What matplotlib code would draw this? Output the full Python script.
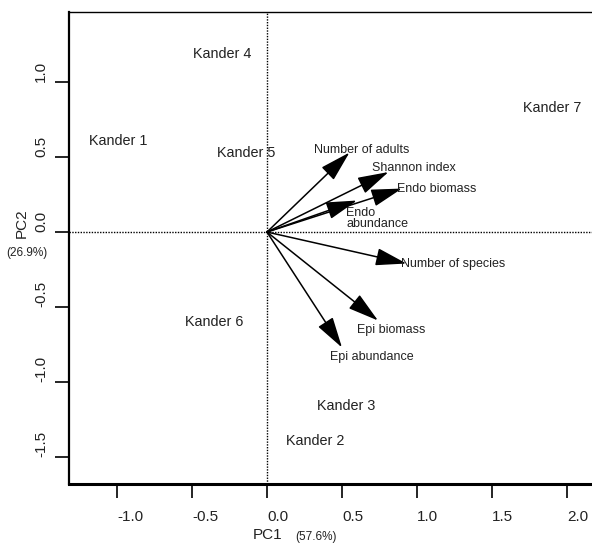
import matplotlib
matplotlib.use("Agg")
from matplotlib import pyplot as plt

plt.rcParams['font.family'] = ['Liberation Sans', 'DejaVu Sans']

# site scores
sites = ["Kander 1", "Kander 2", "Kander 3", "Kander 4", "Kander 5", "Kander 6", "Kander 7"]
site_x = [-0.99, 0.32, 0.53, -0.30, -0.14, -0.35, 1.90]
site_y = [0.61, -1.39, -1.16, 1.19, 0.53, -0.60, 0.83]

# variable loadings (arrow tips)
variables = ["Number of adults", "Shannon index", "Endo biomass", "Endo\nabundance",
             "Number of species", "Epi biomass", "Epi abundance"]
var_x = [0.55, 0.81, 0.90, 0.60, 0.93, 0.74, 0.50]
var_y = [0.53, 0.40, 0.29, 0.21, -0.21, -0.59, -0.77]
# label positions for the arrows
lab_x = [0.63, 0.98, 1.13, 0.53, 1.24, 0.83, 0.70]
lab_y = [0.55, 0.43, 0.29, 0.09, -0.21, -0.65, -0.83]
lab_ha = ["center", "center", "center", "left", "center", "center", "center"]

xticks = [-1.0, -0.5, 0.0, 0.5, 1.0, 1.5, 2.0]
yticks = [-1.5, -1.0, -0.5, 0.0, 0.5, 1.0]

fig = plt.figure(figsize=(5.92, 5.43), dpi=100)
ax = fig.add_axes([69/592, 59/543, 1 - 69/592, 472/543])
ax.set_xlim(-1.32, 2.167)
ax.set_ylim(-1.68, 1.467)

tc = "#222222"

ax.axvline(0, color="black", lw=1.0, ls=(0, (1, 1)), zorder=1)
ax.axhline(0, color="black", lw=1.0, ls=(0, (1, 1)), zorder=1)

for name, x, y in zip(sites, site_x, site_y):
    ax.text(x, y, name, ha="center", va="center", fontsize=10.4, color=tc)

# arrows: filled heads
for x, y in zip(var_x, var_y):
    ax.annotate("", xy=(x, y), xytext=(0, 0),
                arrowprops=dict(arrowstyle="-|>,head_length=1.2,head_width=0.34",
                                mutation_scale=16, lw=1.1, color="black",
                                shrinkA=0, shrinkB=0),
                zorder=3)

for name, x, y, ha in zip(variables, lab_x, lab_y, lab_ha):
    ax.text(x, y, name, ha=ha, va="center", fontsize=9, color=tc,
            linespacing=0.95, zorder=4)

ax.set_xticks(xticks)
ax.set_xticklabels(["%.1f" % v for v in xticks], ha="left")
ax.set_yticks(yticks)
ax.set_yticklabels(["%.1f" % v for v in yticks], rotation=90, va="bottom")
ax.tick_params(axis="x", direction="out", length=10, width=1.2,
               labelsize=11, pad=9, colors="black", labelcolor=tc)
ax.tick_params(axis="y", direction="out", length=10, width=1.2,
               labelsize=11, pad=5, colors="black", labelcolor=tc)

ax.spines["right"].set_visible(False)
ax.spines["top"].set_linewidth(1.0)
ax.spines["left"].set_linewidth(1.6)
ax.spines["bottom"].set_linewidth(2.2)

fig.text(268/592, 1 - 535/543, "PC1", ha="center", va="center", fontsize=11, color=tc)
fig.text(316/592, 1 - 537/543, "(57.6%)", ha="center", va="center", fontsize=8.5, color=tc)
fig.text(22/592, 1 - 223/543, "PC2", ha="center", va="center", fontsize=11, color=tc, rotation=90)
fig.text(27/592, 1 - 253/543, "(26.9%)", ha="center", va="center", fontsize=8.5, color=tc)

fig.savefig("out.png", dpi=100)
